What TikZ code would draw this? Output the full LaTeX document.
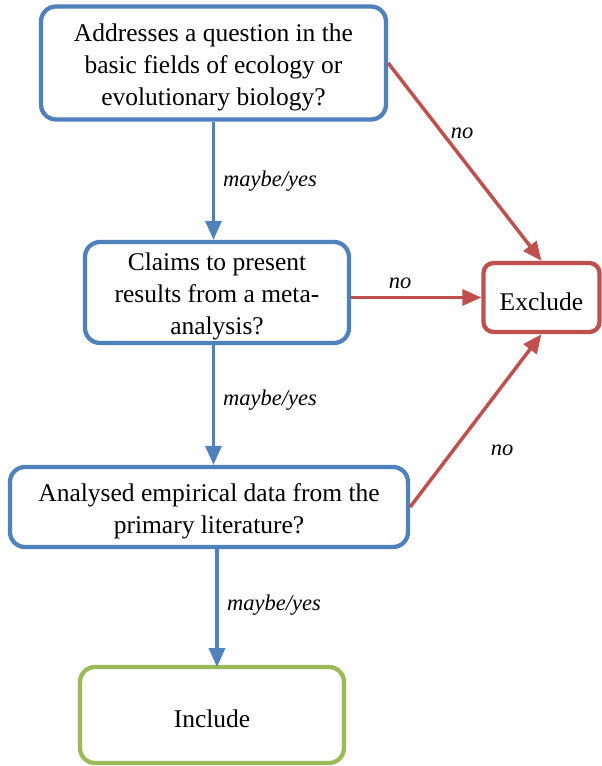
\documentclass[tikz,border=0pt]{standalone}
\usepackage{fontspec}
\setmainfont{Liberation Serif}
\usetikzlibrary{arrows.meta}
\definecolor{cblue}{HTML}{4F81BD}
\definecolor{cred}{HTML}{C0504D}
\definecolor{cgreen}{HTML}{9BBB59}
\newcommand{\toppad}{\rule{0pt}{25.5pt}}
\begin{document}
\begin{tikzpicture}[x=1pt,y=-1pt,
  box/.style={draw=cblue, line width=4.3pt, rounded corners=15pt, fill=white, align=center, inner sep=0pt,
     font=\fontsize{25.5}{32}\selectfont},
  redbox/.style={box, draw=cred},
  greenbox/.style={box, draw=cgreen},
  barrow/.style={draw=cblue, line width=3.5pt, -{Triangle[length=19pt,width=16pt]}},
  rarrow/.style={draw=cred, line width=3.5pt, -{Triangle[length=19pt,width=16pt]}},
  lbl/.style={font=\fontsize{22.5}{24}\selectfont\itshape, inner sep=0pt}]
\useasboundingbox (0,0) rectangle (602,766);
\node[box, minimum width=345pt, minimum height=113pt] (q1) at (213.5,63)
  {\toppad Addresses a question in the\\basic fields of ecology or\\evolutionary biology?};
\node[box, minimum width=264pt, minimum height=101pt] (q2) at (217,292.5)
  {\toppad Claims to present\\results from a meta-\\analysis?};
\node[box, minimum width=398pt, minimum height=80pt] (q3) at (209,507)
  {\toppad Analysed empirical data from the\\primary literature?};
\node[redbox, rounded corners=10pt, minimum width=116pt, minimum height=69pt] (ex) at (541.5,297.5) {\toppad Exclude};
\node[greenbox, minimum width=264pt, minimum height=96pt] (in) at (212,715) {\toppad Include};

\draw[barrow] (q1.south) -- (q1.south |- q2.north);
\draw[barrow] (q2.south -| q1.south) -- (q1.south |- q3.north);
\draw[barrow] (217,547) -- (217,667);
\draw[rarrow] (q1.east) -- (ex.north);
\draw[rarrow] (q2.east |- ex.west) -- (ex.west);
\draw[rarrow] (q3.east) -- (ex.south);

\node[lbl] (l1) at (270,181) {maybe/yes};
\node[lbl] (l2) at (270,400) {maybe/yes};
\node[lbl] (l3) at (274,605) {maybe/yes};
\node[lbl] (n1) at (462,133) {no};
\node[lbl] (n2) at (400,283) {no};
\node[lbl] (n3) at (502,450) {no};
\end{tikzpicture}
\end{document}
